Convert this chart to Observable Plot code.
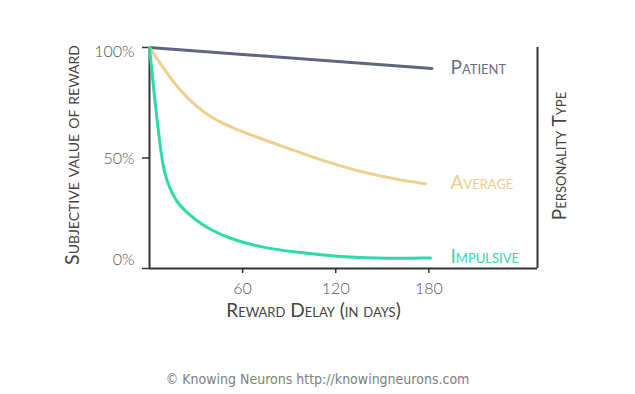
<!DOCTYPE html>
<html>
<head>
<meta charset="utf-8">
<script src="https://cdn.jsdelivr.net/npm/d3@7"></script>
<script src="https://cdn.jsdelivr.net/npm/@observablehq/plot@0.6"></script>
<style>
  html, body { margin: 0; padding: 0; background: #fff; }
  #chart svg { display: block; }
</style>
</head>
<body>
<div id="chart"></div>
<script>
// Data (delay in days, subjective value in %)
const patientDays    = [0, 182];
const patientValues  = [100, 90.5];
const averageDays    = [0, 10, 19, 30, 40, 51, 62, 90, 111, 133, 154, 178];
const averageValues  = [100, 89.5, 81, 73.4, 68.2, 64.4, 61.2, 54.2, 48.9, 44.3, 41, 38.3];
const impulsiveDays  = [0, 4, 7, 8.5, 10.5, 14.6, 19, 30, 40, 51, 62, 73, 91, 123, 155, 181];
const impulsiveValues= [100, 72, 55, 47.5, 41, 33.8, 28.5, 21.7, 17.2, 13.9, 11.4, 9.6, 7.6, 5.2, 4.4, 4.8];
const seriesNames    = ["Patient", "Average", "Impulsive"];
const seriesColors   = ["#60657f", "#efcf8c", "#2edaa6"];
const labelColors    = ["#6a6e82", "#ebcd8e", "#35d6b0"];
const xTicks = [60, 120, 180];
const yTicks = [0, 50, 100];

const table = [
  ...patientDays.map((d, i) => ({series: "Patient", day: d, value: patientValues[i]})),
  ...averageDays.map((d, i) => ({series: "Average", day: d, value: averageValues[i]})),
  ...impulsiveDays.map((d, i) => ({series: "Impulsive", day: d, value: impulsiveValues[i]}))
];

const font = "Lato, 'Open Sans', sans-serif";
const pct = d => d + "%";
const yLabelOpts = {tickSize: 0, tickPadding: 15, label: null, fill: "#555", fontWeight: 300, fontSize: 16, tickFormat: pct};

const chart = Plot.plot({
  width: 635,
  height: 394,
  marginLeft: 149,
  marginRight: 98,
  marginTop: 47,
  marginBottom: 126,
  style: {fontFamily: font, fontSize: "15px", color: "#555", background: "#fff", overflow: "visible"},
  x: {domain: [0, 250]},
  y: {domain: [0, 100]},
  color: {domain: seriesNames, range: seriesColors},
  marks: [
    Plot.axisX({ticks: xTicks, tickSize: 5, tickPadding: 9, label: null, stroke: "#333", strokeWidth: 1.5, fill: "#555", fontWeight: 300, fontSize: 16}),
    Plot.axisY({ticks: yTicks, tickSize: 7, tickFormat: () => "", label: null, stroke: "#333", strokeWidth: 1.5}),
    Plot.axisY({...yLabelOpts, ticks: [yTicks[2]], dy: 4}),
    Plot.axisY({...yLabelOpts, ticks: [yTicks[1]], dy: 1}),
    Plot.axisY({...yLabelOpts, ticks: [yTicks[0]], dy: -9}),
    Plot.ruleX([0, 250], {stroke: "#333", strokeWidth: 2}),
    Plot.ruleY([0], {stroke: "#333", strokeWidth: 2}),
    Plot.line(table, {x: "day", y: "value", z: "series", stroke: "series", strokeWidth: 3, curve: "basis"}),
    Plot.text(table, Plot.selectLast({
      y: "value", z: "series", text: "series",
      fill: d => labelColors[seriesNames.indexOf(d.series)],
      frameAnchor: "right", dx: -87, textAnchor: "start", dy: -1,
      fontSize: 19, fontVariant: "small-caps", fontWeight: 400
    })),
    Plot.text(["Subjective value of reward"], {
      frameAnchor: "left", dx: -77, dy: -3, rotate: -90, textAnchor: "middle", fontSize: 19.5, fontVariant: "small-caps",
      fill: "#444", fontWeight: 400
    }),
    Plot.text(["Personality Type"], {
      frameAnchor: "right", dx: 22, dy: -2, rotate: -90, textAnchor: "middle", fontSize: 19, fontVariant: "small-caps",
      fill: "#444", fontWeight: 400
    }),
    Plot.text(["Reward Delay (in days)"], {
      frameAnchor: "bottom", dx: -30, dy: 48, textAnchor: "middle", fontSize: 19, fontVariant: "small-caps",
      fill: "#444", fontWeight: 400
    }),
    Plot.text(["© Knowing Neurons http://knowingneurons.com"], {
      frameAnchor: "bottom", dx: -26, dy: 115, textAnchor: "middle", fontSize: 14,
      fontFamily: "'Liberation Sans Narrow', 'DejaVu Sans Condensed', sans-serif",
      fill: "#808080"
    })
  ]
});
document.getElementById("chart").appendChild(chart);
</script>
</body>
</html>
